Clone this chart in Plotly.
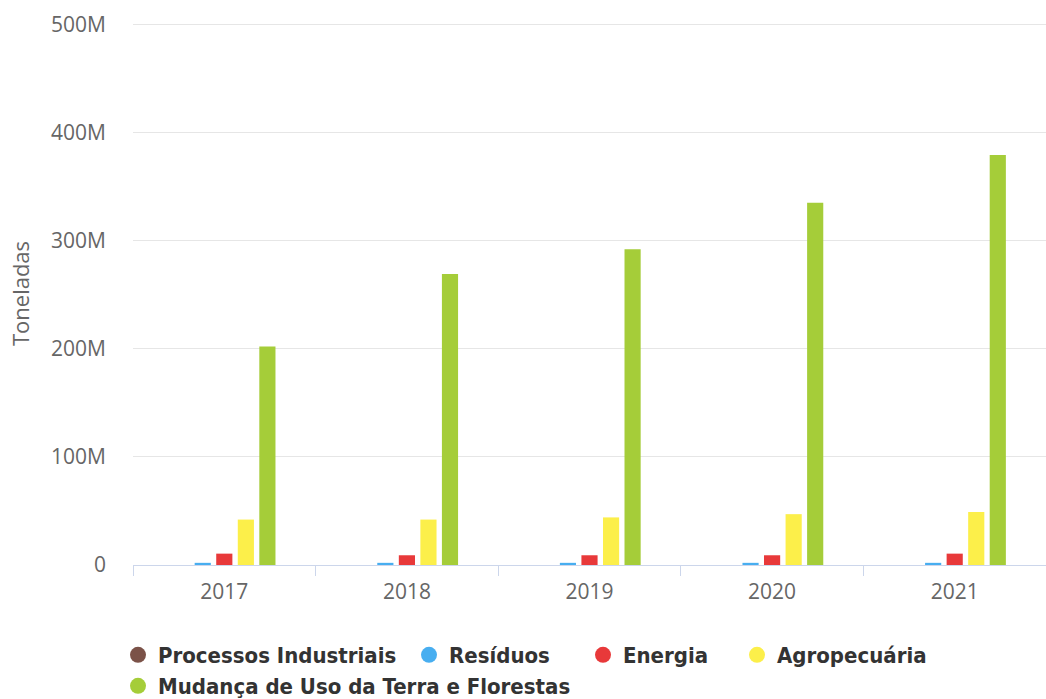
import plotly.graph_objects as go

# Emissões por setor (toneladas), 2017–2021
anos = ["2017", "2018", "2019", "2020", "2021"]
processos_industriais = [0, 0, 0, 0, 0]
residuos = [2.0e6, 2.0e6, 2.0e6, 2.0e6, 2.0e6]
energia = [10.5e6, 9.0e6, 9.0e6, 9.0e6, 10.5e6]
agropecuaria = [42e6, 42e6, 44e6, 47e6, 49e6]
mudanca_uso_terra = [202e6, 269e6, 292e6, 335e6, 379e6]

series = [
    ("Processos Industriais", processos_industriais, "#7b5248"),
    ("Resíduos", residuos, "#48aef0"),
    ("Energia", energia, "#e8393a"),
    ("Agropecuária", agropecuaria, "#fcef4a"),
    ("Mudança de Uso da Terra e Florestas", mudanca_uso_terra, "#a5cd39"),
]

W, H = 1046, 699
# legend entry anchors (left edge, vertical centre) in pixels
legend_pos = [(118, 655), (409, 655), (583, 655), (737, 655), (118, 686)]

fig = go.Figure()
for nome, valores, cor in series:
    fig.add_trace(go.Bar(
        x=anos, y=valores, name=nome, marker=dict(color=cor, line=dict(width=0)),
        showlegend=False,
    ))

legend_font = dict(family="DejaVu Sans Condensed", size=22, color="#333333", weight="bold")

legends = {}
for i, ((nome, valores, cor), (lx, ly)) in enumerate(zip(series, legend_pos)):
    key = "legend" if i == 0 else f"legend{i + 1}"
    # circular legend symbol for each series
    fig.add_trace(go.Scatter(
        x=[None], y=[None], mode="markers", name=nome, legend=key,
        marker=dict(color=cor, size=18, symbol="circle"),
    ))
    legends[key] = dict(
        orientation="h", x=lx / W, xref="container", xanchor="left",
        y=(H - ly) / H, yref="container", yanchor="middle",
        font=legend_font, bgcolor="rgba(0,0,0,0)",
    )

fig.update_layout(
    width=W, height=H,
    margin=dict(l=133, r=0, t=22, b=134),
    paper_bgcolor="white", plot_bgcolor="white",
    barmode="group", bargap=0.41, bargroupgap=0.25,
    font=dict(family="Open Sans", color="#666666", size=18),
    xaxis=dict(
        type="category", showline=True, linecolor="#ccd6eb", linewidth=1,
        ticks="outside", tickson="boundaries", ticklen=10, tickcolor="#ccd6eb",
        tickfont=dict(family="Open Sans", size=21, color="#666666"), showgrid=False,
        ticklabelstandoff=8,
    ),
    yaxis=dict(
        range=[0, 502e6], tickvals=[0, 100e6, 200e6, 300e6, 400e6, 500e6],
        tickformat="~s", showgrid=True, gridcolor="#e6e6e6", gridwidth=1,
        zeroline=False, ticklabelstandoff=26,
        tickfont=dict(family="Open Sans", size=21, color="#666666"),
        title=dict(text="Toneladas", font=dict(family="Open Sans", size=22, color="#666666"),
                   standoff=15),
    ),
    **legends,
)

fig.write_html("out.html")
